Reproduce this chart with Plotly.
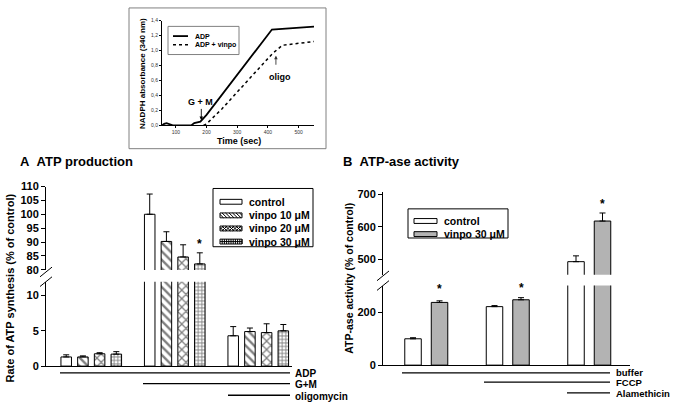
import plotly.graph_objects as go

W, H = 675, 409
FONT = "Liberation Sans, Arial, sans-serif"


def px(x):
    return x / W


def py(y):
    return 1 - y / H


# ---------------- Panel A: ATP production ----------------
groups_a = ["ADP", "G+M", "oligomycin"]
series_a = ["control", "vinpo 10 μM", "vinpo 20 μM", "vinpo 30 μM"]
control_a = [1.3, 100.0, 4.3]
vinpo10_a = [1.3, 90.2, 4.9]
vinpo20_a = [1.75, 84.6, 4.75]
vinpo30_a = [1.7, 82.1, 5.0]
control_a_err = [0.3, 7.3, 1.3]
vinpo10_a_err = [0.15, 3.5, 0.5]
vinpo20_a_err = [0.15, 4.4, 1.25]
vinpo30_a_err = [0.35, 4.0, 0.9]
ticks_a_low = [0, 5, 10]
ticks_a_high = [80, 85, 90, 95, 100, 105, 110]

# ---------------- Panel B: ATP-ase activity ----------------
groups_b = ["buffer", "FCCP", "Alamethicin"]
series_b = ["control", "vinpo 30 μM"]
control_b = [100, 222, 492]
vinpo30_b = [238, 248, 618]
control_b_err = [4, 4, 18]
vinpo30_b_err = [6, 8, 25]
ticks_b_low = [0, 200]
ticks_b_high = [500, 600, 700]

# ---------------- Inset: NADPH absorbance ----------------
time_adp = [55, 62, 70, 80, 90, 100, 150, 160, 170, 180, 200, 300, 413, 550]
abs_adp = [0.0, 0.02, 0.03, 0.01, 0.0, 0.0, 0.0, 0.03, 0.04, 0.05, 0.14, 0.68, 1.28, 1.32]
time_vinpo = [190, 200, 250, 300, 350, 415, 447, 550]
abs_vinpo = [0.0, 0.02, 0.22, 0.45, 0.67, 0.96, 1.07, 1.12]
inset_series = ["ADP", "ADP + vinpo"]
inset_xticks = [100, 200, 300, 400, 500]
inset_yticks = [0, 0.2, 0.4, 0.6, 0.8, 1.0, 1.2, 1.4]
inset_yticklabels = ["0,0", "0,2", "0,4", "0,6", "0,8", "1,0", "1,2", "1,4"]

fig = go.Figure()

# ---- Panel A bars (lower and upper part of the broken axis) ----
vals_a = [control_a, vinpo10_a, vinpo20_a, vinpo30_a]
errs_a = [control_a_err, vinpo10_a_err, vinpo20_a_err, vinpo30_a_err]
patterns_a = ["", "\\", "x", "+"]
pat_size = [8, 6, 6, 3.5]
pat_sol = [0.3, 0.4, 0.38, 0.45]
centers_a = [-0.30, -0.10, 0.10, 0.30]
wa = 0.126
for yax in ("y", "y2"):
    for i, name in enumerate(series_a):
        marker = dict(color="white", line=dict(color="black", width=1))
        if patterns_a[i]:
            marker["pattern"] = dict(shape=patterns_a[i], fgcolor="black", bgcolor="white",
                                     size=pat_size[i], solidity=pat_sol[i])
        fig.add_trace(go.Bar(
            x=groups_a, y=vals_a[i], name=name, xaxis="x", yaxis=yax,
            width=wa, offset=centers_a[i] - wa / 2, marker=marker, showlegend=False,
            error_y=dict(type="data", symmetric=False, array=errs_a[i],
                         arrayminus=[0] * len(groups_a), color="black",
                         thickness=1, width=3),
        ))

# ---- Panel B bars ----
vals_b = [control_b, vinpo30_b]
errs_b = [control_b_err, vinpo30_b_err]
colors_b = ["white", "#b3b3b3"]
centers_b = [-0.1626, 0.1626]
wb = 0.2025
for yax in ("y3", "y4"):
    for i, name in enumerate(series_b):
        fig.add_trace(go.Bar(
            x=groups_b, y=vals_b[i], name=name, xaxis="x2", yaxis=yax,
            width=wb, offset=centers_b[i] - wb / 2,
            marker=dict(color=colors_b[i], line=dict(color="black", width=1)),
            showlegend=False,
            error_y=dict(type="data", symmetric=False, array=errs_b[i],
                         arrayminus=[0] * len(groups_b), color="black",
                         thickness=1, width=3),
        ))

# ---- Inset lines ----
fig.add_trace(go.Scatter(x=time_adp, y=abs_adp, mode="lines", xaxis="x3", yaxis="y5",
                         line=dict(color="black", width=1.8), showlegend=False,
                         name=inset_series[0]))
fig.add_trace(go.Scatter(x=time_vinpo, y=abs_vinpo, mode="lines", xaxis="x3", yaxis="y5",
                         line=dict(color="black", width=1.5, dash="dot"), showlegend=False,
                         name=inset_series[1]))

tickfont = dict(family=FONT, size=11, color="black", weight="bold")
axis_common = dict(showgrid=False, zeroline=False, showline=True, linecolor="black",
                   linewidth=1, fixedrange=True)
yaxis_common = dict(axis_common, ticks="outside", ticklen=4, tickcolor="black",
                    tickfont=tickfont)
inset_tickfont = dict(family=FONT, size=5, color="#333")

fig.update_layout(
    width=W, height=H, margin=dict(l=0, r=0, t=0, b=0),
    paper_bgcolor="white", plot_bgcolor="rgba(0,0,0,0)",
    barmode="overlay", showlegend=False,
    font=dict(family=FONT, color="black"),
    xaxis=dict(axis_common, domain=[px(46), px(292)], range=[-0.542, 2.404], anchor="y",
               showticklabels=False, ticks=""),
    yaxis=dict(yaxis_common, domain=[py(371), py(284)], range=[0, 11.97], anchor="x",
               tickvals=ticks_a_low),
    yaxis2=dict(yaxis_common, domain=[py(272), py(186)], range=[79.9, 110], anchor="x",
                tickvals=ticks_a_high),
    xaxis2=dict(axis_common, domain=[px(383), px(630)], range=[-0.531, 2.5], anchor="y3",
                showticklabels=False, ticks=""),
    yaxis3=dict(yaxis_common, domain=[py(370), py(288)], range=[0, 302], anchor="x2",
                tickvals=ticks_b_low),
    yaxis4=dict(yaxis_common, domain=[py(277), py(192)], range=[451, 707], anchor="x2",
                tickvals=ticks_b_high),
    xaxis3=dict(axis_common, domain=[px(162), px(314)], range=[55, 550], anchor="y5",
                tickvals=inset_xticks, ticks="outside", ticklen=2, tickcolor="black",
                tickfont=inset_tickfont),
    yaxis5=dict(axis_common, domain=[py(123), py(15)], range=[0, 1.4], anchor="x3",
                tickvals=inset_yticks, ticktext=inset_yticklabels, ticks="outside",
                ticklen=2, tickcolor="black", tickfont=inset_tickfont),
)

shapes = []


def seg(x0, y0, x1, y1, color="black", width=1.3, dash=None):
    ln = dict(color=color, width=width)
    if dash:
        ln["dash"] = dash
    shapes.append(dict(type="line", xref="paper", yref="paper", x0=px(x0), y0=py(y0),
                       x1=px(x1), y1=py(y1), line=ln))


def rect(x0, y0, x1, y1, color="black", fill="rgba(0,0,0,0)", width=1):
    shapes.append(dict(type="rect", xref="paper", yref="paper", x0=px(x0), y0=py(y0),
                       x1=px(x1), y1=py(y1), line=dict(color=color, width=width),
                       fillcolor=fill))


def hatch_path(x0, y0, x1, y1, kind, step):
    """SVG path (paper coords) of hatch strokes inside a legend swatch."""
    h = y1 - y0
    parts = []
    if kind in ("\\", "x"):
        a = x0 - h
        while a < x1:
            t0, t1 = max(0, x0 - a), min(h, x1 - a)
            if t1 > t0:
                parts.append(f"M{px(a + t0)},{py(y0 + t0)}L{px(a + t1)},{py(y0 + t1)}")
            a += step
    if kind in ("/", "x"):
        a = x0 - h
        while a < x1:
            t0, t1 = max(0, x0 - a), min(h, x1 - a)
            if t1 > t0:
                parts.append(f"M{px(a + t0)},{py(y1 - t0)}L{px(a + t1)},{py(y1 - t1)}")
            a += step
    if kind == "+":
        xx = x0 + step
        while xx < x1:
            parts.append(f"M{px(xx)},{py(y0)}L{px(xx)},{py(y1)}")
            xx += step
        ym = (y0 + y1) / 2
        parts.append(f"M{px(x0)},{py(ym)}L{px(x1)},{py(ym)}")
    return "".join(parts)


# inset frame and its legend
rect(129, 2, 326, 147, color="#808080")
rect(168, 21, 239, 50, color="#808080")
seg(173, 31, 188, 31, width=1.8)
seg(173, 40, 188, 40, width=1.5, dash="dot")

# axis break marks
for (xb, yb) in ((40, 279), (40, 289)):
    seg(xb, yb, xb + 12, yb - 10, width=1)
for (xb, yb) in ((377, 283), (377, 293)):
    seg(xb, yb, xb + 12, yb - 10, width=1)

# treatment lines under panel A
seg(60, 378, 290, 378)
seg(143, 389, 290, 389)
seg(228, 401, 290, 401)
# treatment lines under panel B
seg(402, 378, 610, 378)
seg(484, 387.5, 610, 387.5)
seg(567, 398.5, 610, 398.5)

# panel A legend (drawn as key swatches)
rect(213, 188, 313, 248)
legend_a_y = [201.7, 215.7, 229.2, 242.7]
hatch_steps = [0, 3.5, 3.5, 2.2]
for i, yc in enumerate(legend_a_y):
    sx0, sx1, sy0, sy1 = 220, 242, yc - 2.5, yc + 2.5
    rect(sx0, sy0, sx1, sy1, fill="white")
    if patterns_a[i]:
        shapes.append(dict(type="path", xref="paper", yref="paper",
                           path=hatch_path(sx0, sy0, sx1, sy1, patterns_a[i], hatch_steps[i]),
                           line=dict(color="black", width=1)))

# panel B legend
rect(408, 209, 508, 239)
rect(414, 219, 437, 224, fill=colors_b[0])
rect(414, 232.5, 437, 237.5, fill=colors_b[1])

fig.update_layout(shapes=shapes)

ann = []


def text(x, y, s, size=11, xanchor="left", angle=0, color="black"):
    ann.append(dict(x=px(x), y=py(y), xref="paper", yref="paper", text=s, showarrow=False,
                    xanchor=xanchor, yanchor="middle", textangle=angle,
                    font=dict(family=FONT, size=size, color=color, weight="bold")))


text(18, 160, "A\u00a0\u00a0ATP production", size=13)
text(341, 160, "B\u00a0\u00a0ATP-ase activity", size=13)
text(10, 291, "Rate of ATP synthesis (% of control)", size=11, xanchor="center", angle=-90)
text(349, 281, "ATP-ase activity (% of control)", size=10.5, xanchor="center", angle=-90)
text(143, 70, "NADPH absorbance (340 nm)", size=8, xanchor="center", angle=-90)
text(239, 139, "Time (sec)", size=9, xanchor="center")
text(193, 31, inset_series[0], size=7)
text(193, 40, inset_series[1], size=7)
for g, yy in zip(groups_a, (379, 389.5, 402)):
    text(293, yy, g, size=10)
for g, yy in zip(groups_b, (377.5, 388, 399)):
    text(614, yy, g, size=9.5)
for name, yy in zip(series_a, legend_a_y):
    text(247, yy, name, size=10.5)
for name, yy in zip(series_b, (221.5, 235)):
    text(442, yy, name, size=10.5)

# inset annotations
ann.append(dict(x=180, y=0.31, xref="x3", yref="y5", text="G + M", showarrow=False,
                font=dict(family=FONT, size=9, weight="bold")))
ann.append(dict(x=183, y=0.07, ax=183, ay=0.24, xref="x3", yref="y5", axref="x3",
                ayref="y5", text="", showarrow=True, arrowhead=2, arrowsize=0.8,
                arrowwidth=0.9, arrowcolor="black"))
ann.append(dict(x=440, y=0.65, xref="x3", yref="y5", text="oligo", showarrow=False,
                font=dict(family=FONT, size=9, weight="bold")))
ann.append(dict(x=426, y=0.93, ax=426, ay=0.79, xref="x3", yref="y5", axref="x3",
                ayref="y5", text="", showarrow=True, arrowhead=2, arrowsize=0.8,
                arrowwidth=0.9, arrowcolor="#333"))

# significance asterisks
star = dict(family=FONT, size=12, weight="bold")
ann.append(dict(x=1 + centers_a[3], y=89.3, xref="x", yref="y2", text="*",
                showarrow=False, font=star))
ann.append(dict(x=0 + centers_b[1], y=288, xref="x2", yref="y3", text="*",
                showarrow=False, font=star))
ann.append(dict(x=1 + centers_b[1], y=294, xref="x2", yref="y3", text="*",
                showarrow=False, font=star))
ann.append(dict(x=2 + centers_b[1], y=671, xref="x2", yref="y4", text="*",
                showarrow=False, font=star))

fig.update_layout(annotations=ann)

fig.write_html(
    "out.html",
    config={"displayModeBar": False},
    post_script="document.body.style.margin='0';document.body.style.overflow='hidden';",
)
